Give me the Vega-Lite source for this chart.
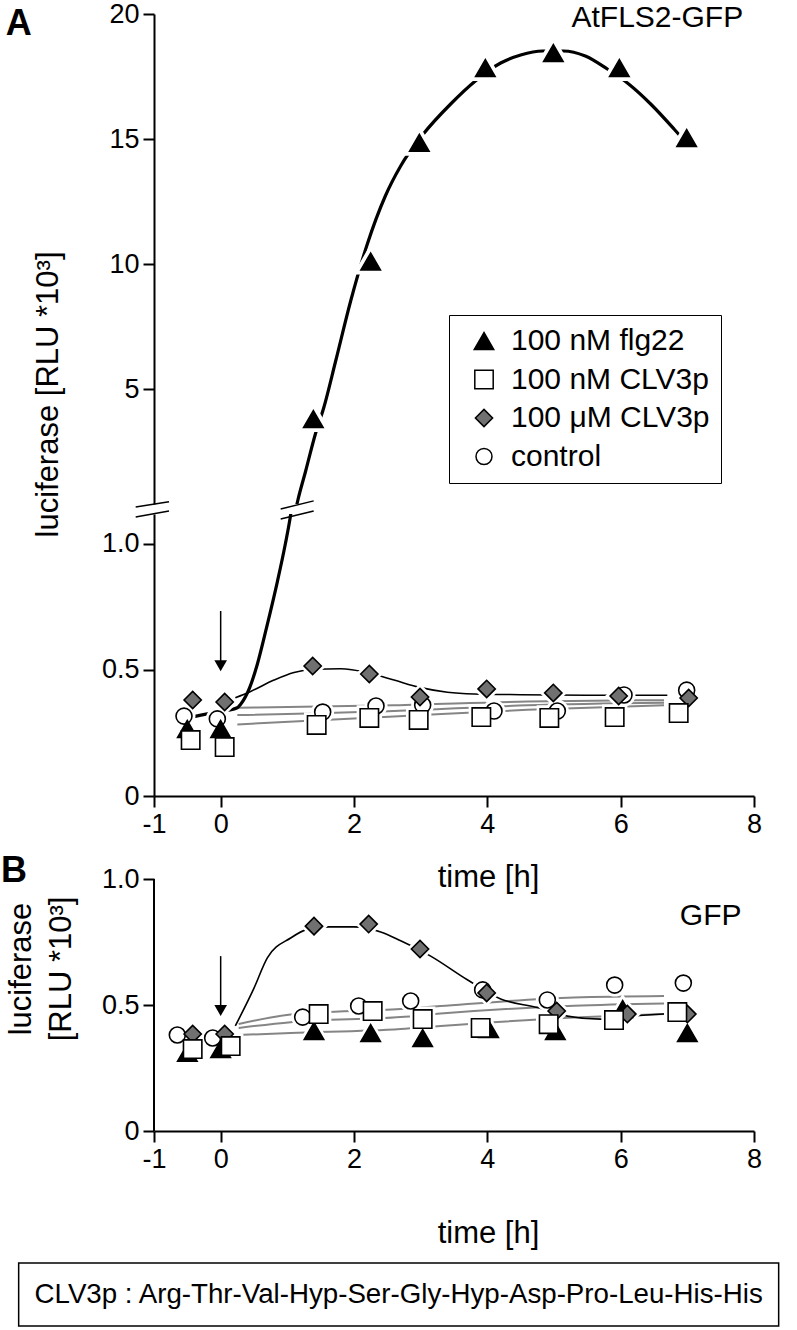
{
  "$schema": "https://vega.github.io/schema/vega-lite/v6.json",
  "padding": {"left": 1, "top": 0, "right": 5, "bottom": 2},
  "background": "white",
  "config": {
    "font": "Liberation Sans",
    "view": {"stroke": null},
    "axis": {"domainColor": "black", "domainWidth": 2, "tickColor": "black", "tickWidth": 2, "tickSize": 11, "labelFontSize": 27, "labelColor": "black", "labelPadding": 4, "labelFlush": false, "labelOverlap": false, "titleFontSize": 31, "titleFontWeight": "normal", "titleColor": "black", "grid": false, "labelFont": "Liberation Sans", "titleFont": "Liberation Sans"},
    "legend": {"labelFont": "Liberation Sans", "labelFontSize": 30, "labelColor": "black", "labelLimit": 400}
  },
  "datasets": {
    "notes": [{"n": "AtFLS2-GFP"}, {"n": "A"}, {"n": "B"}, {"n": "GFP"}, {"n": "CLV3p :  Arg-Thr-Val-Hyp-Ser-Gly-Hyp-Asp-Pro-Leu-His-His"}, {"n": "arrow"}, {"n": "break"}, {"n": "box"}, {"n": "axis"}],
    "pts": [
      {"p": "A", "s": "control", "t": -0.55, "v": 0.317}, {"p": "A", "s": "control", "t": -0.05, "v": 0.306}, {"p": "A", "s": "control", "t": 1.53, "v": 0.333}, {"p": "A", "s": "control", "t": 2.33, "v": 0.357}, {"p": "A", "s": "control", "t": 3.03, "v": 0.361}, {"p": "A", "s": "control", "t": 4.1, "v": 0.337}, {"p": "A", "s": "control", "t": 5.05, "v": 0.337}, {"p": "A", "s": "control", "t": 6.05, "v": 0.401}, {"p": "A", "s": "control", "t": 6.99, "v": 0.42},
      {"p": "A", "s": "100 nM flg22", "t": -0.5, "v": 0.266}, {"p": "A", "s": "100 nM flg22", "t": 0.0, "v": 0.266}, {"p": "A", "s": "100 nM flg22", "t": 1.39, "v": 3.8}, {"p": "A", "s": "100 nM flg22", "t": 2.25, "v": 10.1}, {"p": "A", "s": "100 nM flg22", "t": 2.98, "v": 14.85}, {"p": "A", "s": "100 nM flg22", "t": 3.97, "v": 17.84}, {"p": "A", "s": "100 nM flg22", "t": 4.99, "v": 18.44}, {"p": "A", "s": "100 nM flg22", "t": 5.98, "v": 17.84}, {"p": "A", "s": "100 nM flg22", "t": 6.99, "v": 15.04},
      {"p": "A", "s": "100 μM CLV3p", "t": -0.42, "v": 0.381}, {"p": "A", "s": "100 μM CLV3p", "t": 0.06, "v": 0.373}, {"p": "A", "s": "100 μM CLV3p", "t": 1.38, "v": 0.516}, {"p": "A", "s": "100 μM CLV3p", "t": 2.23, "v": 0.484}, {"p": "A", "s": "100 μM CLV3p", "t": 2.99, "v": 0.393}, {"p": "A", "s": "100 μM CLV3p", "t": 3.99, "v": 0.425}, {"p": "A", "s": "100 μM CLV3p", "t": 4.99, "v": 0.409}, {"p": "A", "s": "100 μM CLV3p", "t": 5.97, "v": 0.397}, {"p": "A", "s": "100 μM CLV3p", "t": 7.02, "v": 0.389},
      {"p": "A", "s": "100 nM CLV3p", "t": -0.45, "v": 0.222}, {"p": "A", "s": "100 nM CLV3p", "t": 0.06, "v": 0.194}, {"p": "A", "s": "100 nM CLV3p", "t": 1.44, "v": 0.282}, {"p": "A", "s": "100 nM CLV3p", "t": 2.23, "v": 0.31}, {"p": "A", "s": "100 nM CLV3p", "t": 2.97, "v": 0.302}, {"p": "A", "s": "100 nM CLV3p", "t": 3.91, "v": 0.313}, {"p": "A", "s": "100 nM CLV3p", "t": 4.93, "v": 0.31}, {"p": "A", "s": "100 nM CLV3p", "t": 5.91, "v": 0.313}, {"p": "A", "s": "100 nM CLV3p", "t": 6.87, "v": 0.329},
      {"p": "B", "s": "control", "t": -0.65, "v": 0.381}, {"p": "B", "s": "control", "t": -0.12, "v": 0.369}, {"p": "B", "s": "control", "t": 1.23, "v": 0.452}, {"p": "B", "s": "control", "t": 2.07, "v": 0.496}, {"p": "B", "s": "control", "t": 2.85, "v": 0.516}, {"p": "B", "s": "control", "t": 3.93, "v": 0.56}, {"p": "B", "s": "control", "t": 4.9, "v": 0.52}, {"p": "B", "s": "control", "t": 5.91, "v": 0.579}, {"p": "B", "s": "control", "t": 6.94, "v": 0.587},
      {"p": "B", "s": "100 nM flg22", "t": -0.5, "v": 0.31}, {"p": "B", "s": "100 nM flg22", "t": 0.0, "v": 0.325}, {"p": "B", "s": "100 nM flg22", "t": 1.4, "v": 0.397}, {"p": "B", "s": "100 nM flg22", "t": 2.25, "v": 0.389}, {"p": "B", "s": "100 nM flg22", "t": 3.03, "v": 0.369}, {"p": "B", "s": "100 nM flg22", "t": 4.02, "v": 0.405}, {"p": "B", "s": "100 nM flg22", "t": 5.02, "v": 0.397}, {"p": "B", "s": "100 nM flg22", "t": 6.03, "v": 0.484}, {"p": "B", "s": "100 nM flg22", "t": 7.0, "v": 0.389},
      {"p": "B", "s": "100 μM CLV3p", "t": -0.42, "v": 0.385}, {"p": "B", "s": "100 μM CLV3p", "t": 0.06, "v": 0.385}, {"p": "B", "s": "100 μM CLV3p", "t": 1.4, "v": 0.813}, {"p": "B", "s": "100 μM CLV3p", "t": 2.22, "v": 0.821}, {"p": "B", "s": "100 μM CLV3p", "t": 2.99, "v": 0.722}, {"p": "B", "s": "100 μM CLV3p", "t": 3.99, "v": 0.548}, {"p": "B", "s": "100 μM CLV3p", "t": 5.04, "v": 0.476}, {"p": "B", "s": "100 μM CLV3p", "t": 6.1, "v": 0.464}, {"p": "B", "s": "100 μM CLV3p", "t": 7.0, "v": 0.464},
      {"p": "B", "s": "100 nM CLV3p", "t": -0.42, "v": 0.325}, {"p": "B", "s": "100 nM CLV3p", "t": 0.15, "v": 0.337}, {"p": "B", "s": "100 nM CLV3p", "t": 1.47, "v": 0.464}, {"p": "B", "s": "100 nM CLV3p", "t": 2.28, "v": 0.476}, {"p": "B", "s": "100 nM CLV3p", "t": 3.03, "v": 0.444}, {"p": "B", "s": "100 nM CLV3p", "t": 3.9, "v": 0.409}, {"p": "B", "s": "100 nM CLV3p", "t": 4.92, "v": 0.424}, {"p": "B", "s": "100 nM CLV3p", "t": 5.9, "v": 0.44}, {"p": "B", "s": "100 nM CLV3p", "t": 6.85, "v": 0.472}
    ],
    "curves": [
      {"p": "Aup", "c": "flg22", "t": 1.1, "v": -0.15}, {"p": "Aup", "c": "flg22", "t": 1.155, "v": 0.52}, {"p": "Aup", "c": "flg22", "t": 1.275, "v": 1.72}, {"p": "Aup", "c": "flg22", "t": 1.425, "v": 3.24}, {"p": "Aup", "c": "flg22", "t": 1.545, "v": 4.24}, {"p": "Aup", "c": "flg22", "t": 1.725, "v": 6.12}, {"p": "Aup", "c": "flg22", "t": 1.95, "v": 8.52}, {"p": "Aup", "c": "flg22", "t": 2.2, "v": 10.8}, {"p": "Aup", "c": "flg22", "t": 2.47, "v": 12.72}, {"p": "Aup", "c": "flg22", "t": 2.7, "v": 13.92}, {"p": "Aup", "c": "flg22", "t": 3.04, "v": 15.2}, {"p": "Aup", "c": "flg22", "t": 3.45, "v": 16.4}, {"p": "Aup", "c": "flg22", "t": 3.82, "v": 17.32}, {"p": "Aup", "c": "flg22", "t": 4.2, "v": 18.04}, {"p": "Aup", "c": "flg22", "t": 4.5, "v": 18.36}, {"p": "Aup", "c": "flg22", "t": 4.83, "v": 18.52}, {"p": "Aup", "c": "flg22", "t": 5.14, "v": 18.52}, {"p": "Aup", "c": "flg22", "t": 5.47, "v": 18.32}, {"p": "Aup", "c": "flg22", "t": 5.8, "v": 17.8}, {"p": "Aup", "c": "flg22", "t": 6.12, "v": 17.2}, {"p": "Aup", "c": "flg22", "t": 6.45, "v": 16.4}, {"p": "Aup", "c": "flg22", "t": 6.8, "v": 15.4}, {"p": "Aup", "c": "flg22", "t": 6.9, "v": 15.1},
      {"p": "Alo", "c": "flg22", "t": -0.4, "v": 0.315}, {"p": "Alo", "c": "flg22", "t": -0.125, "v": 0.33}, {"p": "Alo", "c": "flg22", "t": 0.1, "v": 0.34}, {"p": "Alo", "c": "flg22", "t": 0.25, "v": 0.35}, {"p": "Alo", "c": "flg22", "t": 0.3, "v": 0.364}, {"p": "Alo", "c": "flg22", "t": 0.435, "v": 0.43}, {"p": "Alo", "c": "flg22", "t": 0.55, "v": 0.523}, {"p": "Alo", "c": "flg22", "t": 0.7, "v": 0.681}, {"p": "Alo", "c": "flg22", "t": 0.85, "v": 0.85}, {"p": "Alo", "c": "flg22", "t": 0.97, "v": 1.0}, {"p": "Alo", "c": "flg22", "t": 1.04, "v": 1.1}, {"p": "Alo", "c": "flg22", "t": 1.08, "v": 1.17},
      {"p": "Alo", "c": "100 μM CLV3p", "t": 0.22, "v": 0.39}, {"p": "Alo", "c": "100 μM CLV3p", "t": 0.45, "v": 0.415}, {"p": "Alo", "c": "100 μM CLV3p", "t": 0.8, "v": 0.46}, {"p": "Alo", "c": "100 μM CLV3p", "t": 1.1, "v": 0.49}, {"p": "Alo", "c": "100 μM CLV3p", "t": 1.4, "v": 0.503}, {"p": "Alo", "c": "100 μM CLV3p", "t": 1.8, "v": 0.505}, {"p": "Alo", "c": "100 μM CLV3p", "t": 2.2, "v": 0.49}, {"p": "Alo", "c": "100 μM CLV3p", "t": 2.6, "v": 0.46}, {"p": "Alo", "c": "100 μM CLV3p", "t": 3.0, "v": 0.43}, {"p": "Alo", "c": "100 μM CLV3p", "t": 3.4, "v": 0.412}, {"p": "Alo", "c": "100 μM CLV3p", "t": 3.8, "v": 0.405}, {"p": "Alo", "c": "100 μM CLV3p", "t": 4.5, "v": 0.402}, {"p": "Alo", "c": "100 μM CLV3p", "t": 5.5, "v": 0.4}, {"p": "Alo", "c": "100 μM CLV3p", "t": 6.7, "v": 0.4},
      {"p": "Alo", "c": "trend a", "t": 0.25, "v": 0.35}, {"p": "Alo", "c": "trend a", "t": 2.6, "v": 0.36}, {"p": "Alo", "c": "trend a", "t": 4.6, "v": 0.375}, {"p": "Alo", "c": "trend a", "t": 6.65, "v": 0.38},
      {"p": "Alo", "c": "trend b", "t": 0.25, "v": 0.321}, {"p": "Alo", "c": "trend b", "t": 2.6, "v": 0.337}, {"p": "Alo", "c": "trend b", "t": 4.6, "v": 0.36}, {"p": "Alo", "c": "trend b", "t": 6.65, "v": 0.37},
      {"p": "Alo", "c": "trend c", "t": 0.25, "v": 0.284}, {"p": "Alo", "c": "trend c", "t": 2.6, "v": 0.315}, {"p": "Alo", "c": "trend c", "t": 4.6, "v": 0.342}, {"p": "Alo", "c": "trend c", "t": 6.65, "v": 0.36},
      {"p": "B", "c": "100 μM CLV3p", "t": 0.22, "v": 0.417}, {"p": "B", "c": "100 μM CLV3p", "t": 0.5, "v": 0.567}, {"p": "B", "c": "100 μM CLV3p", "t": 0.7, "v": 0.687}, {"p": "B", "c": "100 μM CLV3p", "t": 1.05, "v": 0.766}, {"p": "B", "c": "100 μM CLV3p", "t": 1.3, "v": 0.8}, {"p": "B", "c": "100 μM CLV3p", "t": 1.62, "v": 0.81}, {"p": "B", "c": "100 μM CLV3p", "t": 2.0, "v": 0.81}, {"p": "B", "c": "100 μM CLV3p", "t": 2.4, "v": 0.79}, {"p": "B", "c": "100 μM CLV3p", "t": 2.7, "v": 0.755}, {"p": "B", "c": "100 μM CLV3p", "t": 3.15, "v": 0.694}, {"p": "B", "c": "100 μM CLV3p", "t": 3.7, "v": 0.6}, {"p": "B", "c": "100 μM CLV3p", "t": 4.2, "v": 0.524}, {"p": "B", "c": "100 μM CLV3p", "t": 4.75, "v": 0.49}, {"p": "B", "c": "100 μM CLV3p", "t": 5.2, "v": 0.456}, {"p": "B", "c": "100 μM CLV3p", "t": 5.7, "v": 0.444}, {"p": "B", "c": "100 μM CLV3p", "t": 6.2, "v": 0.456}, {"p": "B", "c": "100 μM CLV3p", "t": 6.65, "v": 0.464},
      {"p": "B", "c": "trend a", "t": 0.27, "v": 0.425}, {"p": "B", "c": "trend a", "t": 1.05, "v": 0.462}, {"p": "B", "c": "trend a", "t": 2.7, "v": 0.484}, {"p": "B", "c": "trend a", "t": 3.3, "v": 0.496}, {"p": "B", "c": "trend a", "t": 5.3, "v": 0.53}, {"p": "B", "c": "trend a", "t": 6.65, "v": 0.536},
      {"p": "B", "c": "trend b", "t": 0.27, "v": 0.409}, {"p": "B", "c": "trend b", "t": 1.05, "v": 0.432}, {"p": "B", "c": "trend b", "t": 2.7, "v": 0.452}, {"p": "B", "c": "trend b", "t": 3.3, "v": 0.466}, {"p": "B", "c": "trend b", "t": 5.3, "v": 0.497}, {"p": "B", "c": "trend b", "t": 6.65, "v": 0.506},
      {"p": "B", "c": "trend c", "t": 0.27, "v": 0.381}, {"p": "B", "c": "trend c", "t": 1.05, "v": 0.389}, {"p": "B", "c": "trend c", "t": 2.7, "v": 0.405}, {"p": "B", "c": "trend c", "t": 3.3, "v": 0.417}, {"p": "B", "c": "trend c", "t": 5.3, "v": 0.45}, {"p": "B", "c": "trend c", "t": 6.65, "v": 0.464}
    ]
  },
  "bounds": "flush",
  "spacing": 10,
  "resolve": {"scale": {"shape": "independent", "fill": "independent", "size": "independent"}, "legend": {"shape": "independent", "fill": "independent", "size": "independent"}},
  "vconcat": [
    {
      "width": 600,
      "height": 490,
      "layer": [
        {"data": {"name": "curves"}, "transform": [{"filter": "datum.p == 'Aup'"}],
         "mark": {"type": "line", "color": "black", "strokeWidth": 3.2, "interpolate": "monotone", "clip": true},
         "encoding": {
           "x": {"field": "t", "type": "quantitative", "scale": {"domain": [-1, 8], "nice": false, "zero": false}, "axis": null},
           "y": {"field": "v", "type": "quantitative", "scale": {"domain": [0.4, 20], "nice": false, "zero": false},
                 "axis": {"values": [5, 10, 15, 20], "title": "luciferase [RLU *10³]", "titleX": -106, "titleY": 380, "titleAngle": -90, "titleBaseline": "middle", "titleAlign": "center"}}
         }},
        {"data": {"name": "pts"}, "transform": [{"filter": "datum.p == 'A' && datum.v > 1.2"}],
         "mark": {"type": "point", "shape": "triangle-up", "size": 380, "filled": true, "fill": "white", "stroke": "white", "strokeWidth": 9, "opacity": 1, "clip": true},
         "encoding": {
           "x": {"field": "t", "type": "quantitative", "axis": null},
           "y": {"field": "v", "type": "quantitative"}
         }},
        {"data": {"name": "pts"}, "transform": [{"filter": "datum.p == 'A' && datum.v > 1.2"}],
         "mark": {"type": "point", "filled": true, "stroke": "black", "strokeWidth": 1.6, "opacity": 1, "clip": true},
         "encoding": {
           "x": {"field": "t", "type": "quantitative", "axis": null},
           "y": {"field": "v", "type": "quantitative"},
           "shape": {"field": "s", "type": "nominal", "scale": {"domain": ["100 nM flg22", "100 nM CLV3p", "100 μM CLV3p", "control"], "range": ["triangle-up", "square", "diamond", "circle"]},
                     "legend": {"title": null, "orient": "none", "legendX": 295, "legendY": 301, "strokeColor": "black", "fillColor": "white", "padding": 11, "symbolOffset": 9, "labelOffset": 12, "rowPadding": 8.5, "symbolStrokeWidth": 1.5, "labelFontSize": 30, "labelLimit": 400}},
           "fill": {"field": "s", "type": "nominal", "scale": {"domain": ["100 nM flg22", "100 nM CLV3p", "100 μM CLV3p", "control"], "range": ["black", "white", "#707070", "white"]},
                    "legend": {"title": null, "orient": "none", "legendX": 295, "legendY": 301, "strokeColor": "black", "fillColor": "white", "padding": 11, "symbolOffset": 9, "labelOffset": 12, "rowPadding": 8.5, "symbolStrokeWidth": 1.5, "labelFontSize": 30, "labelLimit": 400}},
           "size": {"field": "s", "type": "nominal", "scale": {"domain": ["100 nM flg22", "100 nM CLV3p", "100 μM CLV3p", "control"], "range": [380, 256, 560, 460]},
                    "legend": {"title": null, "orient": "none", "legendX": 295, "legendY": 301, "strokeColor": "black", "fillColor": "white", "padding": 11, "symbolOffset": 9, "labelOffset": 12, "rowPadding": 8.5, "symbolStrokeWidth": 1.5, "labelFontSize": 30, "labelLimit": 400}}
         }},
        {"data": {"name": "notes"}, "transform": [{"filter": "datum.n == 'AtFLS2-GFP'"}],
         "mark": {"type": "text", "fontSize": 30, "align": "center", "baseline": "middle", "color": "black"},
         "encoding": {"text": {"field": "n"}, "x": {"datum": 6.55, "axis": null}, "y": {"datum": 19.84}}},
        {"data": {"name": "notes"}, "transform": [{"filter": "datum.n == 'A'"}],
         "mark": {"type": "text", "fontSize": 36, "fontWeight": "bold", "align": "center", "baseline": "middle", "color": "black"},
         "encoding": {"text": {"field": "n"}, "x": {"datum": -3.03, "axis": null}, "y": {"datum": 19.6}}}
      ]
    },
    {
      "width": 600,
      "height": 282,
      "layer": [
        {"data": {"name": "curves"}, "transform": [{"filter": "datum.p == 'Alo' && indexof(datum.c, 'trend') == 0"}],
         "mark": {"type": "line", "color": "#858585", "strokeWidth": 2, "interpolate": "monotone", "clip": true},
         "encoding": {
           "x": {"field": "t", "type": "quantitative", "scale": {"domain": [-1, 8], "nice": false, "zero": false},
                 "axis": {"values": [-1, 0, 2, 4, 6, 8], "labelExpr": "datum.value < 0 ? '-' + abs(datum.value) : '' + datum.value", "title": "time [h]", "titleX": 334, "titleY": 81, "titleBaseline": "middle", "titleAlign": "center"}},
           "y": {"field": "v", "type": "quantitative", "scale": {"domain": [0, 1.119], "nice": false, "zero": false},
                 "axis": {"values": [0, 0.5, 1], "labelExpr": "datum.value == 0 ? '0' : format(datum.value, '.1f')", "title": null}},
           "detail": {"field": "c", "type": "nominal"}
         }},
        {"data": {"name": "curves"}, "transform": [{"filter": "datum.p == 'Alo' && datum.c == '100 μM CLV3p'"}],
         "mark": {"type": "line", "color": "black", "strokeWidth": 1.6, "interpolate": "monotone", "clip": true},
         "encoding": {"x": {"field": "t", "type": "quantitative"}, "y": {"field": "v", "type": "quantitative"}}},
        {"data": {"name": "curves"}, "transform": [{"filter": "datum.p == 'Alo' && datum.c == 'flg22'"}],
         "mark": {"type": "line", "color": "black", "strokeWidth": 3.2, "interpolate": "monotone", "clip": true},
         "encoding": {"x": {"field": "t", "type": "quantitative"}, "y": {"field": "v", "type": "quantitative"}}},
        {"data": {"name": "pts"}, "transform": [{"filter": "datum.p == 'A' && datum.v < 1.2"}],
         "mark": {"type": "point", "filled": true, "fill": "white", "stroke": "white", "strokeWidth": 7, "opacity": 1, "clip": true},
         "encoding": {
           "x": {"field": "t", "type": "quantitative"}, "y": {"field": "v", "type": "quantitative"},
           "shape": {"field": "s", "type": "nominal", "scale": {"domain": ["100 nM flg22", "100 nM CLV3p", "100 μM CLV3p", "control"], "range": ["triangle-up", "square", "diamond", "circle"]}, "legend": null},
           "size": {"field": "s", "type": "nominal", "scale": {"domain": ["100 nM flg22", "100 nM CLV3p", "100 μM CLV3p", "control"], "range": [380, 256, 560, 460]}, "legend": null}
         }},
        {"data": {"name": "pts"}, "transform": [{"filter": "datum.p == 'A' && datum.v < 1.2"}],
         "mark": {"type": "point", "filled": true, "stroke": "black", "strokeWidth": 1.6, "opacity": 1, "clip": true},
         "encoding": {
           "x": {"field": "t", "type": "quantitative"}, "y": {"field": "v", "type": "quantitative"},
           "shape": {"field": "s", "type": "nominal", "scale": {"domain": ["100 nM flg22", "100 nM CLV3p", "100 μM CLV3p", "control"], "range": ["triangle-up", "square", "diamond", "circle"]}, "legend": null},
           "fill": {"field": "s", "type": "nominal", "scale": {"domain": ["100 nM flg22", "100 nM CLV3p", "100 μM CLV3p", "control"], "range": ["black", "white", "#707070", "white"]}, "legend": null},
           "size": {"field": "s", "type": "nominal", "scale": {"domain": ["100 nM flg22", "100 nM CLV3p", "100 μM CLV3p", "control"], "range": [380, 256, 560, 460]}, "legend": null}
         }},
        {"data": {"name": "notes"}, "transform": [{"filter": "datum.n == 'arrow'"}], "mark": {"type": "rule", "color": "black", "strokeWidth": 1.5},
         "encoding": {"x": {"datum": 0}, "y": {"datum": 0.734}, "y2": {"datum": 0.53}}},
        {"data": {"name": "notes"}, "transform": [{"filter": "datum.n == 'arrow'"}], "mark": {"type": "point", "shape": "triangle-down", "filled": true, "color": "black", "size": 160, "opacity": 1},
         "encoding": {"x": {"datum": 0}, "y": {"datum": 0.517}}},
        {"data": {"name": "notes"}, "transform": [{"filter": "datum.n == 'break'"}], "mark": {"type": "rule", "color": "black", "strokeWidth": 1.5},
         "encoding": {"x": {"datum": -1.275}, "x2": {"datum": -0.775}, "y": {"datum": 1.147}, "y2": {"datum": 1.168}}},
        {"data": {"name": "notes"}, "transform": [{"filter": "datum.n == 'break'"}], "mark": {"type": "rule", "color": "black", "strokeWidth": 1.5},
         "encoding": {"x": {"datum": -1.275}, "x2": {"datum": -0.775}, "y": {"datum": 1.107}, "y2": {"datum": 1.131}}},
        {"data": {"name": "notes"}, "transform": [{"filter": "datum.n == 'break'"}], "mark": {"type": "rule", "color": "black", "strokeWidth": 1.5},
         "encoding": {"x": {"datum": 0.9}, "x2": {"datum": 1.395}, "y": {"datum": 1.139}, "y2": {"datum": 1.171}}},
        {"data": {"name": "notes"}, "transform": [{"filter": "datum.n == 'break'"}], "mark": {"type": "rule", "color": "black", "strokeWidth": 1.5},
         "encoding": {"x": {"datum": 0.9}, "x2": {"datum": 1.395}, "y": {"datum": 1.099}, "y2": {"datum": 1.131}}}
      ]
    },
    {
      "width": 600,
      "height": 325,
      "layer": [
        {"data": {"name": "curves"}, "transform": [{"filter": "datum.p == 'B' && indexof(datum.c, 'trend') == 0"}],
         "mark": {"type": "line", "color": "#858585", "strokeWidth": 2, "interpolate": "monotone", "clip": true},
         "encoding": {
           "x": {"field": "t", "type": "quantitative", "scale": {"domain": [-1, 8], "nice": false, "zero": false},
                 "axis": {"values": [-1, 0, 2, 4, 6, 8], "labelExpr": "datum.value < 0 ? '-' + abs(datum.value) : '' + datum.value", "title": "time [h]", "titleX": 334, "titleY": 102, "titleBaseline": "middle", "titleAlign": "center"}},
           "y": {"field": "v", "type": "quantitative", "scale": {"domain": [0, 1.2897], "nice": false, "zero": false},
                 "axis": {"values": [0, 0.5, 1], "domain": false, "labelExpr": "datum.value == 0 ? '0' : format(datum.value, '.1f')", "title": ["luciferase", "[RLU *10³]"], "titleX": -133, "titleAngle": -90, "titleBaseline": "middle", "titleAlign": "center", "titleLineHeight": 40}},
           "detail": {"field": "c", "type": "nominal"}
         }},
        {"data": {"name": "curves"}, "transform": [{"filter": "datum.p == 'B' && datum.c == '100 μM CLV3p'"}],
         "mark": {"type": "line", "color": "black", "strokeWidth": 1.6, "interpolate": "monotone", "clip": true},
         "encoding": {"x": {"field": "t", "type": "quantitative"}, "y": {"field": "v", "type": "quantitative"}}},
        {"data": {"name": "pts"}, "transform": [{"filter": "datum.p == 'B'"}],
         "mark": {"type": "point", "filled": true, "fill": "white", "stroke": "white", "strokeWidth": 7, "opacity": 1, "clip": true},
         "encoding": {
           "x": {"field": "t", "type": "quantitative"}, "y": {"field": "v", "type": "quantitative"},
           "shape": {"field": "s", "type": "nominal", "scale": {"domain": ["100 nM flg22", "100 nM CLV3p", "100 μM CLV3p", "control"], "range": ["triangle-up", "square", "diamond", "circle"]}, "legend": null},
           "size": {"field": "s", "type": "nominal", "scale": {"domain": ["100 nM flg22", "100 nM CLV3p", "100 μM CLV3p", "control"], "range": [380, 256, 560, 460]}, "legend": null}
         }},
        {"data": {"name": "pts"}, "transform": [{"filter": "datum.p == 'B'"}],
         "mark": {"type": "point", "filled": true, "stroke": "black", "strokeWidth": 1.6, "opacity": 1, "clip": true},
         "encoding": {
           "x": {"field": "t", "type": "quantitative"}, "y": {"field": "v", "type": "quantitative"},
           "shape": {"field": "s", "type": "nominal", "scale": {"domain": ["100 nM flg22", "100 nM CLV3p", "100 μM CLV3p", "control"], "range": ["triangle-up", "square", "diamond", "circle"]}, "legend": null},
           "fill": {"field": "s", "type": "nominal", "scale": {"domain": ["100 nM flg22", "100 nM CLV3p", "100 μM CLV3p", "control"], "range": ["black", "white", "#707070", "white"]}, "legend": null},
           "size": {"field": "s", "type": "nominal", "scale": {"domain": ["100 nM flg22", "100 nM CLV3p", "100 μM CLV3p", "control"], "range": [380, 256, 560, 460]}, "legend": null}
         }},
        {"data": {"name": "notes"}, "transform": [{"filter": "datum.n == 'axis'"}], "mark": {"type": "rule", "color": "black", "strokeWidth": 2},
         "encoding": {"x": {"datum": -1}, "y": {"datum": 0}, "y2": {"datum": 1}}},
        {"data": {"name": "notes"}, "transform": [{"filter": "datum.n == 'arrow'"}], "mark": {"type": "rule", "color": "black", "strokeWidth": 1.5},
         "encoding": {"x": {"datum": 0}, "y": {"datum": 0.694}, "y2": {"datum": 0.49}}},
        {"data": {"name": "notes"}, "transform": [{"filter": "datum.n == 'arrow'"}], "mark": {"type": "point", "shape": "triangle-down", "filled": true, "color": "black", "size": 160, "opacity": 1},
         "encoding": {"x": {"datum": 0}, "y": {"datum": 0.478}}},
        {"data": {"name": "notes"}, "transform": [{"filter": "datum.n == 'GFP'"}],
         "mark": {"type": "text", "fontSize": 30, "align": "center", "baseline": "middle", "color": "black"},
         "encoding": {"text": {"field": "n"}, "x": {"datum": 7.35}, "y": {"datum": 0.853}}},
        {"data": {"name": "notes"}, "transform": [{"filter": "datum.n == 'B'"}],
         "mark": {"type": "text", "fontSize": 36, "fontWeight": "bold", "align": "center", "baseline": "middle", "color": "black"},
         "encoding": {"text": {"field": "n"}, "x": {"datum": -3.1}, "y": {"datum": 1.03}}},
        {"data": {"name": "notes"}, "transform": [{"filter": "datum.n == 'box'"}],
         "mark": {"type": "rect", "fill": "white", "stroke": "black", "strokeWidth": 1.5},
         "encoding": {"x": {"datum": -3.03}, "x2": {"datum": 8.37}, "y": {"datum": -0.524}, "y2": {"datum": -0.774}}},
        {"data": {"name": "notes"}, "transform": [{"filter": "indexof(datum.n, 'CLV3p') == 0"}],
         "mark": {"type": "text", "fontSize": 27.7, "align": "center", "baseline": "middle", "color": "black"},
         "encoding": {"text": {"field": "n"}, "x": {"datum": 2.67}, "y": {"datum": -0.651}}}
      ]
    }
  ]
}
